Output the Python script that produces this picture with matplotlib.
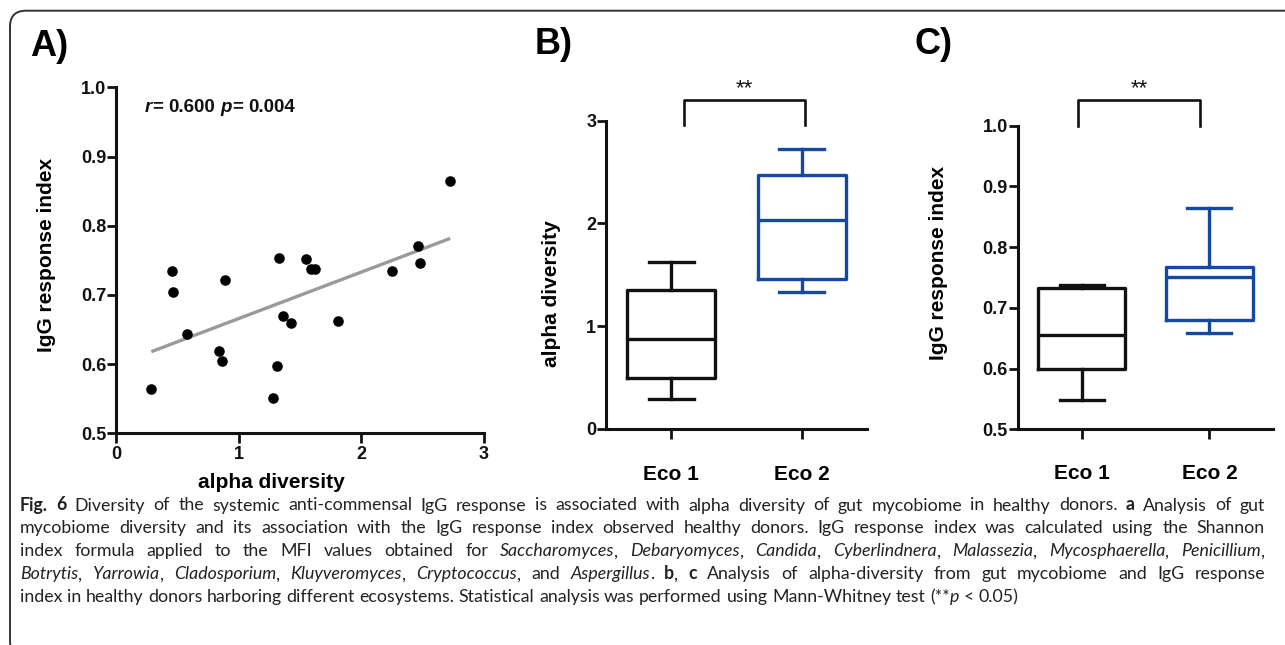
import numpy as np
import matplotlib
matplotlib.use("Agg")
import matplotlib.pyplot as plt
from matplotlib.patches import FancyBboxPatch
from matplotlib.transforms import IdentityTransform

# ---------------- data ----------------
alpha_div = [0.288, 0.454, 0.468, 0.576, 0.843, 0.862, 0.892, 1.283, 1.316, 1.332,
             1.362, 1.430, 1.547, 1.588, 1.623, 1.813, 2.254, 2.458, 2.480, 2.724]
igg_index = [0.564, 0.734, 0.704, 0.644, 0.619, 0.605, 0.722, 0.551, 0.597, 0.753,
             0.669, 0.659, 0.752, 0.737, 0.738, 0.662, 0.734, 0.771, 0.746, 0.865]

groups = ["Eco 1", "Eco 2"]
alpha_whislo = [0.29, 1.33]
alpha_q1 = [0.49, 1.46]
alpha_med = [0.87, 2.03]
alpha_q3 = [1.35, 2.47]
alpha_whishi = [1.62, 2.72]

igg_whislo = [0.549, 0.658]
igg_q1 = [0.599, 0.680]
igg_med = [0.656, 0.750]
igg_q3 = [0.732, 0.767]
igg_whishi = [0.737, 0.865]

a_xticks = [0, 1, 2, 3]
a_yticks = [0.5, 0.6, 0.7, 0.8, 0.9, 1.0]
b_yticks = [0, 1, 2, 3]
c_yticks = [0.5, 0.6, 0.7, 0.8, 0.9, 1.0]

# ---------------- figure ----------------
W, H = 1285, 645
FONT = "Liberation Sans"
plt.rcParams["font.family"] = [FONT, "DejaVu Sans"]
fig = plt.figure(figsize=(W / 100, H / 100), dpi=100)
fig.patch.set_facecolor("white")
renderer = fig.canvas.get_renderer()

BLACK = "#111111"
BLUE = "#1548a0"
SPINE_LW = 2.2


def px_axes(left, top, right, bottom):
    return fig.add_axes([left / W, 1 - bottom / H, (right - left) / W, (bottom - top) / H])


def style_axes(ax):
    for s in ["top", "right"]:
        ax.spines[s].set_visible(False)
    for s in ["left", "bottom"]:
        ax.spines[s].set_linewidth(SPINE_LW)
        ax.spines[s].set_color(BLACK)
        ax.spines[s].set_capstyle("projecting")
    ax.tick_params(axis="y", direction="out", length=6.5, width=2.0, pad=0.5,
                   labelsize=13, colors=BLACK)
    ax.tick_params(axis="x", direction="out", length=7.5, width=2.0, pad=2,
                   labelsize=13, colors=BLACK)
    for lab in ax.get_xticklabels() + ax.get_yticklabels():
        lab.set_fontweight("bold")
    ax.patch.set_alpha(0)


def fig_text(x, y, s, **kw):
    return fig.text(x / W, 1 - y / H, s, **kw)


# ---------- Panel A ----------
axA = px_axes(116, 87.3, 484, 433.3)
axA.set_xlim(0, 3)
axA.set_ylim(0.5, 1.0)
axA.set_xticks(a_xticks)
axA.set_xticklabels([str(v) for v in a_xticks])
axA.set_yticks(a_yticks)
axA.set_yticklabels([f"{v:.1f}" for v in a_yticks])
style_axes(axA)
axA.scatter(alpha_div, igg_index, s=58, color="black", zorder=3, clip_on=False, linewidths=0)
slope, icpt = np.polyfit(alpha_div, igg_index, 1)
xs = np.array([min(alpha_div), max(alpha_div)])
axA.plot(xs, slope * xs + icpt, color="#9a9a9a", lw=2.4, zorder=2, solid_capstyle="butt")

fig_text(30, 47, "A)", fontsize=26, fontweight="bold", va="center", ha="left")
fig_text(271, 483, "alpha diversity", fontsize=15, fontweight="bold", ha="center", va="center")
fig_text(46.7, 254.5, "IgG response index", fontsize=15, fontweight="bold", ha="center",
         va="center", rotation=90)


def measure(s, size, weight, style, family):
    t = fig.text(0, 0, s, fontsize=size, fontweight=weight, fontstyle=style, family=family)
    w = t.get_window_extent(renderer).width
    t.remove()
    return w


STYLES = {"n": ("normal", "normal"), "b": ("bold", "normal"),
          "i": ("normal", "italic"), "bi": ("bold", "italic")}


def draw_line(x0, ybase, segments, size, family, right=None, color="#222222"):
    words = [[]]
    for text, code in segments:
        parts = text.split(" ")
        for i, p in enumerate(parts):
            if i > 0:
                words.append([])
            if p:
                words[-1].append((p, code))
    words = [w for w in words if w]
    widths = []
    for w in words:
        ws = []
        for p, code in w:
            wt, st = STYLES[code]
            ws.append(measure(p, size, wt, st, family))
        widths.append(ws)
    space = measure("a a", size, "normal", "normal", family) - measure("aa", size, "normal", "normal", family)
    total = sum(sum(ws) for ws in widths)
    if right is not None and len(words) > 1:
        gap = (right - x0 - total) / (len(words) - 1)
    else:
        gap = space
    x = x0
    for w, ws in zip(words, widths):
        for (p, code), pw in zip(w, ws):
            wt, st = STYLES[code]
            fig_text(x, ybase, p, fontsize=size, fontweight=wt, fontstyle=st, family=family,
                     ha="left", va="baseline", color=color)
            x += pw
        x += gap


draw_line(145, 111.5, [("r", "bi"), ("= 0.600 ", "b"), ("p", "bi"), ("= 0.004", "b")],
          13.5, [FONT, "DejaVu Sans"], color=BLACK)

# ---------- Panel B ----------
axB = px_axes(606, 120.7, 866.7, 428.7)
axB.set_xlim(0.5, 2.5)
axB.set_ylim(0, 3)
axB.set_xticks([1, 2])
axB.set_xticklabels(["", ""])
axB.set_yticks(b_yticks)
axB.set_yticklabels([str(v) for v in b_yticks])
style_axes(axB)


def draw_boxes(ax, lo, q1, med, q3, hi):
    colors = [BLACK, BLUE]
    for i in range(2):
        st = [dict(med=med[i], q1=q1[i], q3=q3[i], whislo=lo[i], whishi=hi[i], fliers=[])]
        c = colors[i]
        lp = dict(color=c, linewidth=2.4)
        ax.bxp(st, positions=[i + 1], widths=0.675, capwidths=0.343, showfliers=False,
               boxprops=lp, medianprops=lp, whiskerprops=lp, capprops=lp,
               manage_ticks=False)


draw_boxes(axB, alpha_whislo, alpha_q1, alpha_med, alpha_q3, alpha_whishi)
for i, g in enumerate(groups):
    axB.annotate(g, xy=(i + 1, 0), xycoords=("data", "axes fraction"), xytext=(0, -33.3),
                 textcoords="offset points", ha="center", va="center", fontsize=15,
                 fontweight="bold")
axB.plot([1.1, 1.1, 2.03, 2.03], [2.96, 3.2, 3.2, 2.96], color=BLACK, lw=1.9,
         clip_on=False, solid_joinstyle="round")
axB.text(1.565, 3.26, "**", ha="center", va="baseline", fontsize=16, color=BLACK)
fig_text(535, 44, "B)", fontsize=26, fontweight="bold", va="center", ha="left")
fig_text(551.7, 293.3, "alpha diversity", fontsize=15, fontweight="bold", ha="center",
         va="center", rotation=90)

# ---------- Panel C ----------
axC = px_axes(1017.7, 125.7, 1273.3, 429.3)
axC.set_xlim(0.5, 2.5)
axC.set_ylim(0.5, 1.0)
axC.set_xticks([1, 2])
axC.set_xticklabels(["", ""])
axC.set_yticks(c_yticks)
axC.set_yticklabels([f"{v:.1f}" for v in c_yticks])
style_axes(axC)
draw_boxes(axC, igg_whislo, igg_q1, igg_med, igg_q3, igg_whishi)
for i, g in enumerate(groups):
    axC.annotate(g, xy=(i + 1, 0), xycoords=("data", "axes fraction"), xytext=(0, -31.5),
                 textcoords="offset points", ha="center", va="center", fontsize=15,
                 fontweight="bold")
axC.plot([0.975, 0.975, 1.93, 1.93], [1.0, 1.042, 1.042, 1.0], color=BLACK, lw=1.9,
         clip_on=False, solid_joinstyle="round")
axC.text(1.45, 1.052, "**", ha="center", va="baseline", fontsize=16, color=BLACK)
fig_text(915, 44, "C)", fontsize=26, fontweight="bold", va="center", ha="left")
fig_text(938.3, 263.3, "IgG response index", fontsize=15, fontweight="bold", ha="center",
         va="center", rotation=90)

# ---------- caption ----------
CAP_FONT = ["Lato", "DejaVu Sans"]
caption = [
    [("Fig. 6", "b"), (" Diversity of the systemic anti-commensal IgG response is associated with alpha diversity of gut mycobiome in healthy donors. ", "n"), ("a", "b"), (" Analysis of gut", "n")],
    [("mycobiome diversity and its association with the IgG response index observed healthy donors. IgG response index was calculated using the Shannon", "n")],
    [("index formula applied to the MFI values obtained for ", "n"), ("Saccharomyces", "i"), (", ", "n"),
     ("Debaryomyces", "i"), (", ", "n"), ("Candida", "i"), (", ", "n"), ("Cyberlindnera", "i"), (", ", "n"),
     ("Malassezia", "i"), (", ", "n"), ("Mycosphaerella", "i"), (", ", "n"), ("Penicillium", "i"), (",", "n")],
    [("Botrytis", "i"), (", ", "n"), ("Yarrowia", "i"), (", ", "n"), ("Cladosporium", "i"), (", ", "n"),
     ("Kluyveromyces", "i"), (", ", "n"), ("Cryptococcus", "i"), (", and ", "n"), ("Aspergillus", "i"),
     (". ", "n"), ("b", "b"), (", ", "n"), ("c", "b"), (" Analysis of alpha-diversity from gut mycobiome and IgG response", "n")],
    [("index in healthy donors harboring different ecosystems. Statistical analysis was performed using Mann-Whitney test (**", "n"), ("p", "i"), (" < 0.05)", "n")],
]
cap_size = 12.75
for k, segs in enumerate(caption):
    right = 1265 if k < len(caption) - 1 else None
    draw_line(20, 510.5 + 22.9 * k, segs, cap_size, CAP_FONT, right=right)

# ---------- frame ----------
frame = FancyBboxPatch((10, -12), 1300, H - 10.7 + 12,
                       boxstyle="round,pad=0,rounding_size=16",
                       transform=IdentityTransform(), fill=False, edgecolor="#333333",
                       linewidth=1.4)
fig.patches.append(frame)

fig.savefig("out.png", dpi=100)
